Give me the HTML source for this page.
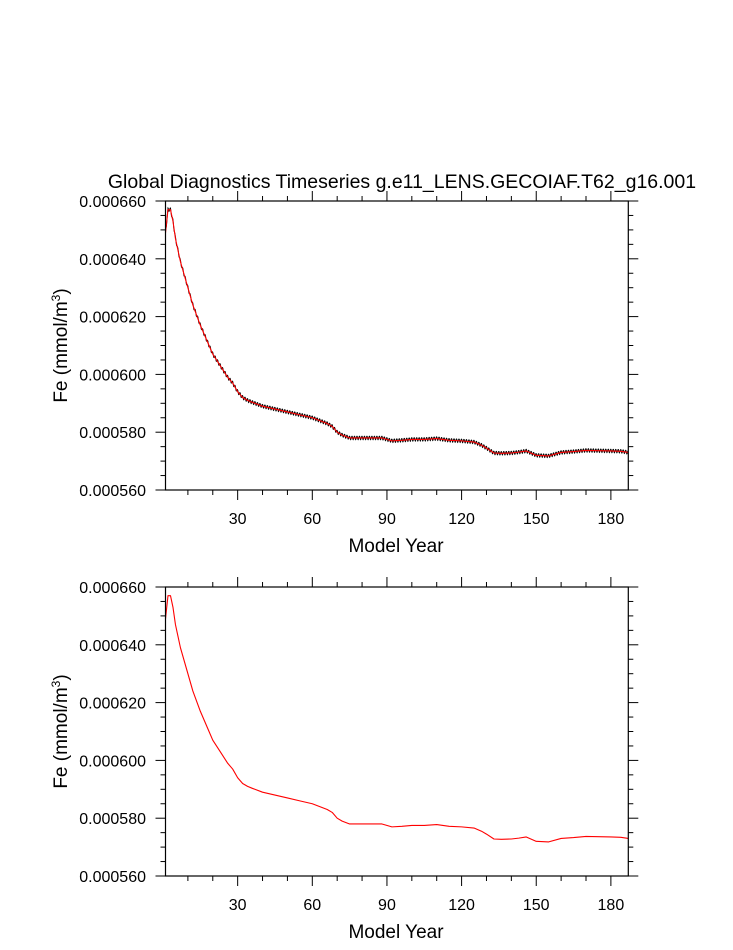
<!DOCTYPE html>
<html><head><meta charset="utf-8"><style>
body{margin:0;background:#fff;}
svg text{font-family:"Liberation Sans",Arial,sans-serif;fill:#000;}
</style></head><body>
<svg id="c" width="733" height="945" viewBox="0 0 733 945" xmlns="http://www.w3.org/2000/svg">
<text x="402" y="188" font-size="19.5" text-anchor="middle">Global Diagnostics Timeseries g.e11_LENS.GECOIAF.T62_g16.001</text>
</svg>
<script>
const years = [1,2,3,4,5,7,10,12,15,18,20,23,26,28,30,32,34,36,40,45,50,55,60,63,66,68,70,72,75,80,85,88,92,96,100,105,110,115,120,125,128,130,133,136,140,143,146,150,155,160,165,170,175,180,184,187];
const feValues = [0.000649,0.000657,0.000657,0.000653,0.000647,0.000639,0.000630,0.000624,0.000617,0.000611,0.000607,0.000603,0.000599,0.000597,0.000594,0.000592,0.000591,0.0005903,0.000589,0.000588,0.000587,0.000586,0.000585,0.000584,0.000583,0.000582,0.000580,0.000579,0.000578,0.000578,0.000578,0.000578,0.000577,0.0005772,0.0005775,0.0005775,0.0005778,0.0005772,0.0005770,0.0005766,0.0005755,0.0005745,0.0005728,0.0005727,0.0005728,0.0005731,0.0005735,0.000572,0.0005718,0.000573,0.0005733,0.0005737,0.0005736,0.0005735,0.0005734,0.0005730];
const seasonalAnom = [0.0000006,0.0000005,0.0000002,-0.0000002,-0.0000005,-0.0000006,-0.0000005,-0.0000002,0.0000001,0.0000003,0.0000005,0.0000006];
const xTicks = [30,60,90,120,150,180];
const yTicks = [0.00056,0.00058,0.00060,0.00062,0.00064,0.00066];
const xMin=1,xMax=187,yMin=0.00056,yMax=0.00066;
const NS="http://www.w3.org/2000/svg";
const svg=document.getElementById('c');
function mk(t,a,p){const e=document.createElementNS(NS,t);for(const k in a)e.setAttribute(k,a[k]);(p||svg).appendChild(e);return e;}
function interp(y){for(let i=0;i<years.length-1;i++){if(y<=years[i+1]){const t=(y-years[i])/(years[i+1]-years[i]);return feValues[i]+t*(feValues[i+1]-feValues[i]);}}return feValues[feValues.length-1];}
function panel(top,showMonthly,name){
  const L=165.5,R=628.3,T=top,B=top+289;
  const sx=v=>L+(v-xMin)/(xMax-xMin)*(R-L);
  const sy=v=>B-(v-yMin)/(yMax-yMin)*(B-T);
  const g=mk('g',{});
  
  
  if(showMonthly){
    let d='';
    for(let y=xMin;y<xMax;y+=1){for(let m=0;m<12;m++){const yr=y+m/12;const v=interp(yr)+seasonalAnom[m];d+=(d?'L':'M')+sx(yr).toFixed(2)+','+sy(v).toFixed(2);}}
    const p=mk('path',{d:d,fill:'none',stroke:'#000','stroke-width':0.9},g);
    
    
  }
  let d2='';
  years.forEach((y,i)=>{d2+=(i?'L':'M')+sx(y).toFixed(2)+','+sy(feValues[i]).toFixed(2);});
  const r=mk('path',{d:d2,fill:'none',stroke:'#f00','stroke-width':1.1,'stroke-linejoin':'round'},g);
  
  
  const fr=mk('rect',{x:L,y:T,width:R-L,height:B-T,fill:'none',stroke:'#000','stroke-width':1.2},g);
  
  
  for(let x=10;x<=xMax;x+=10){const maj=x%30===0;const len=maj?10:5;const X=sx(x);
    mk('line',{x1:X,x2:X,y1:B,y2:B+len,stroke:'#000'},g);mk('line',{x1:X,x2:X,y1:T,y2:T-len,stroke:'#000'},g);}
  xTicks.forEach(x=>{const t=mk('text',{x:sx(x),y:B+34,'font-size':16,'text-anchor':'middle'},g);t.textContent=x;
    });
  for(let k=0;k<=20;k++){const v=yMin+k*0.000005;const maj=k%4===0;const len=maj?10:5;const Y=sy(v);
    mk('line',{x1:L,x2:L-len,y1:Y,y2:Y,stroke:'#000'},g);mk('line',{x1:R,x2:R+len,y1:Y,y2:Y,stroke:'#000'},g);}
  yTicks.forEach(v=>{const t=mk('text',{x:146,y:sy(v)+6,'font-size':16,'text-anchor':'end'},g);t.textContent=v.toFixed(6);
    });
  const xt=mk('text',{x:396,y:B+62,'font-size':19,'text-anchor':'middle'},g);xt.textContent='Model Year';
  
  const yt=mk('text',{x:0,y:0,'font-size':19,'text-anchor':'middle',transform:`translate(67,${(T+B)/2}) rotate(-90)`},g);
  yt.innerHTML='Fe (mmol/m<tspan dy="-7" font-size="12">3</tspan><tspan dy="7">)</tspan>';
  
}
panel(201,true,'top-panel');
panel(587,false,'bottom-panel');
</script>
</body></html>
